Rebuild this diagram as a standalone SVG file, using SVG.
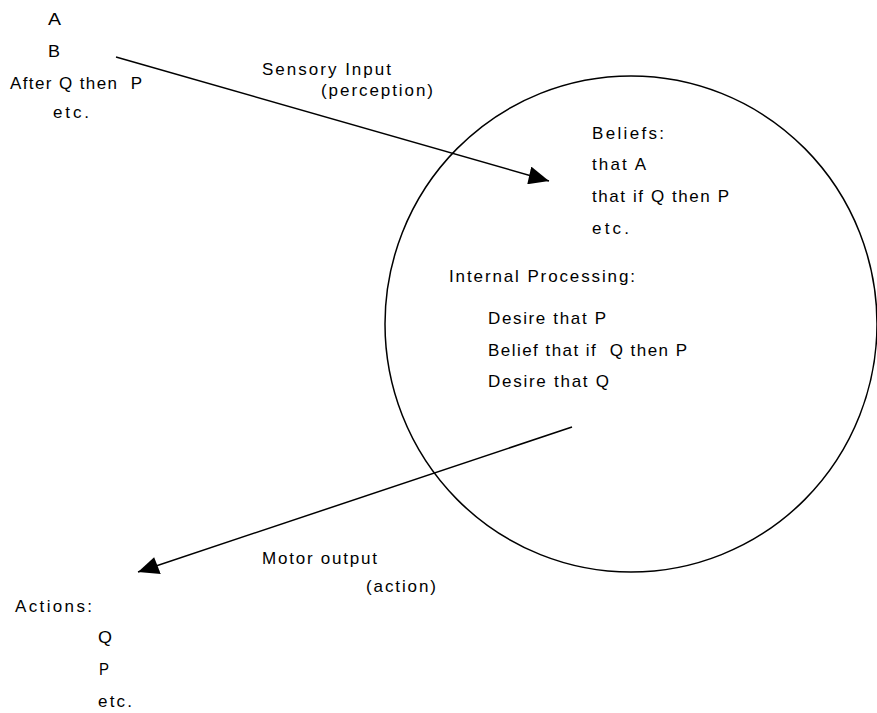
<svg xmlns="http://www.w3.org/2000/svg" width="877" height="713" viewBox="0 0 877 713">
  <style>
    text { font-family: "Liberation Sans", Arial, sans-serif; font-size: 17px; fill: #000; white-space: pre; }
    .edge { stroke: #000; stroke-width: 1.5; fill: none; }
    .agent { stroke: #000; stroke-width: 1.5; fill: none; }
  </style>
  <defs>
    <marker id="head" markerUnits="userSpaceOnUse" viewBox="0 0 22 18" markerWidth="22" markerHeight="18" refX="21" refY="9" orient="auto">
      <path d="M21,9 L0,0 L1,18 Z" fill="#000"/>
    </marker>
  </defs>

  <g id="world">
    <text x="48" y="25" textLength="13" lengthAdjust="spacingAndGlyphs">A</text>
    <text x="48" y="57" textLength="12" lengthAdjust="spacingAndGlyphs">B</text>
    <text x="10" y="89" textLength="132" lengthAdjust="spacing">After Q then  P</text>
    <text x="53" y="118" textLength="36" lengthAdjust="spacing">etc.</text>
  </g>

  <g id="agent">
    <ellipse class="agent" cx="631" cy="324" rx="246" ry="248"/>
    <g id="beliefs">
      <text x="592" y="139" textLength="72" lengthAdjust="spacing">Beliefs:</text>
      <text x="592" y="170" textLength="54" lengthAdjust="spacing">that A</text>
      <text x="592" y="202" textLength="137" lengthAdjust="spacing">that if Q then P</text>
      <text x="592" y="234" textLength="37" lengthAdjust="spacing">etc.</text>
    </g>
    <g id="processing">
      <text x="449" y="282" textLength="186" lengthAdjust="spacing">Internal Processing:</text>
      <text x="488" y="324" textLength="118" lengthAdjust="spacing">Desire that P</text>
      <text x="488" y="356" textLength="199" lengthAdjust="spacing">Belief that if  Q then P</text>
      <text x="488" y="387" textLength="121" lengthAdjust="spacing">Desire that Q</text>
    </g>
  </g>

  <g id="actions">
    <text x="15" y="612" textLength="77" lengthAdjust="spacing">Actions:</text>
    <text x="98" y="643" textLength="14" lengthAdjust="spacingAndGlyphs">Q</text>
    <text x="99" y="675" textLength="10" lengthAdjust="spacingAndGlyphs">P</text>
    <text x="98" y="707" textLength="34" lengthAdjust="spacing">etc.</text>
  </g>

  <g id="connectors">
    <g id="sensory-input">
      <line class="edge" x1="116" y1="57" x2="549" y2="181" marker-end="url(#head)"/>
      <text x="262" y="75" textLength="129" lengthAdjust="spacing">Sensory Input</text>
      <text x="321" y="96" textLength="112" lengthAdjust="spacing">(perception)</text>
    </g>
    <g id="motor-output">
      <line class="edge" x1="572" y1="427" x2="138" y2="572" marker-end="url(#head)"/>
      <text x="262" y="564" textLength="115" lengthAdjust="spacing">Motor output</text>
      <text x="366" y="592" textLength="70" lengthAdjust="spacing">(action)</text>
    </g>
  </g>
</svg>
